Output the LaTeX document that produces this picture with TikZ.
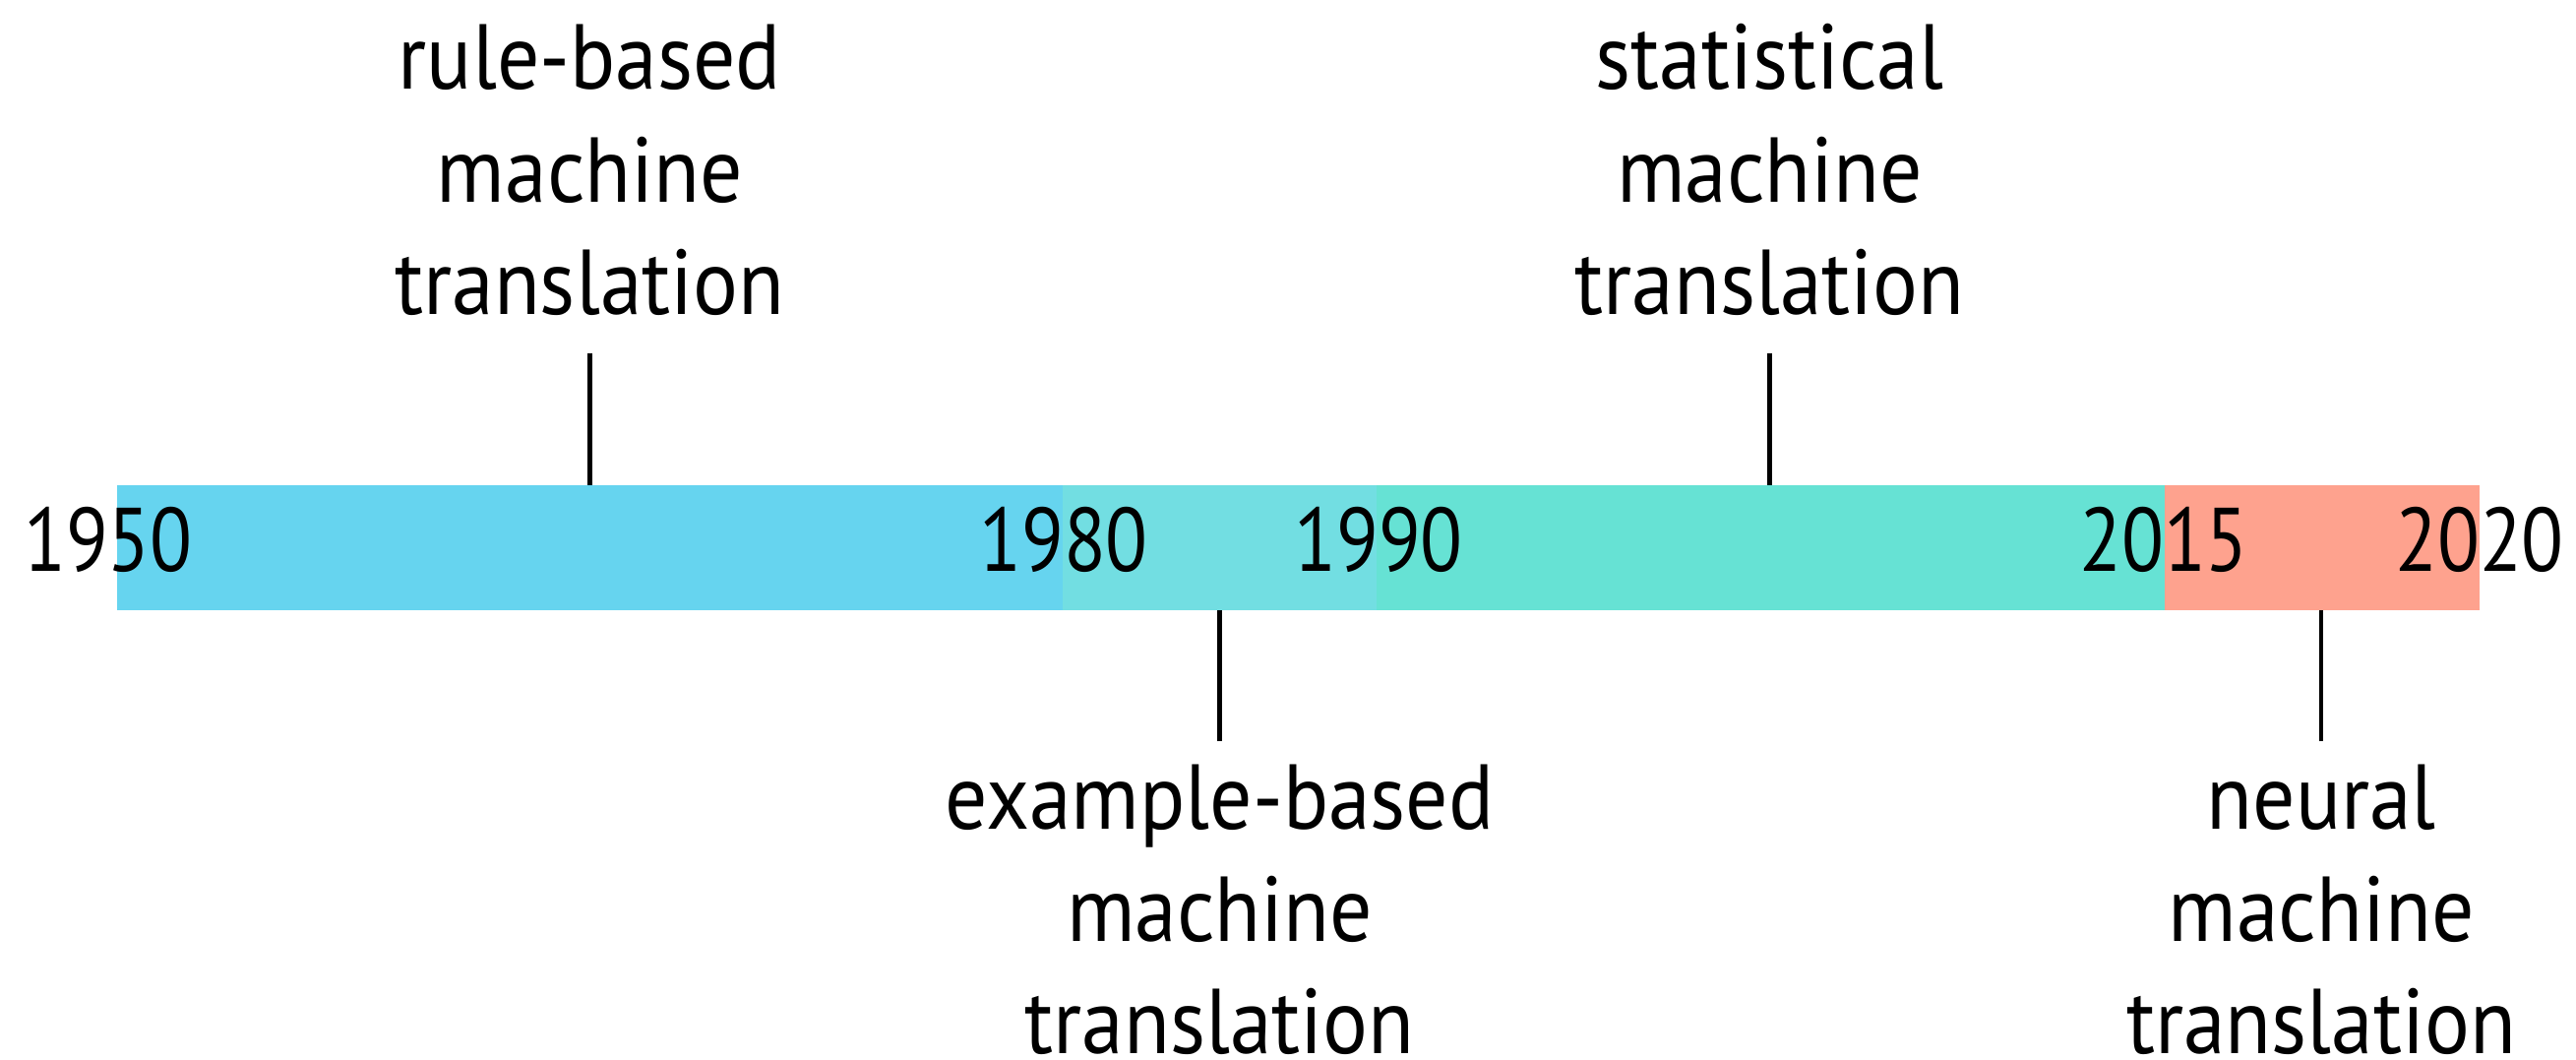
\documentclass[tikz,border=0pt]{standalone}
\usepackage{fontspec}
\setmainfont[FakeStretch=0.915]{PT Sans}
\newfontfamily\yearfont[FakeStretch=0.86]{PT Sans}
\definecolor{segA}{RGB}{102,212,239}
\definecolor{segB}{RGB}{114,222,226}
\definecolor{segC}{RGB}{102,226,212}
\definecolor{segD}{RGB}{254,162,142}
\begin{document}
\begin{tikzpicture}[x=1bp,y=-1bp,
  seg/.style={rectangle,draw=none,inner sep=0pt,outer sep=0pt,minimum height=127.5bp,anchor=north west},
  year/.style={inner sep=0pt,anchor=base,font=\yearfont\fontsize{92}{114.7}\selectfont},
  lbl/.style={inner sep=0pt,align=center,anchor=base,font=\fontsize{94}{114.7}\selectfont},
  tick/.style={line width=4.5bp}]
\useasboundingbox (0,0) rectangle (2618,1076);
% bar segments
\node[seg,fill=segA,minimum width=961.8bp] (sA) at (118.5,492.5) {};
\node[seg,fill=segB,minimum width=318.9bp] (sB) at (1080.3,492.5) {};
\node[seg,fill=segC,minimum width=801.1bp] (sC) at (1399.2,492.5) {};
\node[seg,fill=segD,minimum width=319.4bp] (sD) at (2200.3,492.5) {};
% years
\node[year] (y1950) at (110,580.7) {1950};
\node[year] (y1980) at (1081,580.7) {1980};
\node[year] (y1990) at (1401,580.7) {1990};
\node[year] (y2015) at (2199,580.7) {2015};
\node[year] (y2020) at (2520,580.7) {2020};
% labels (base = baseline of last line)
\node[lbl] (rule) at (599.4,319.3) {rule-based\\machine\\translation};
\node[lbl] (stat) at (1798.5,319.3) {statistical\\machine\\translation};
\node[lbl] (exam) at (1239.5,1070.7) {example-based\\machine\\translation};
\node[lbl] (neur) at (2359.2,1070.7) {neural\\machine\\translation};
% connector ends
\coordinate (rEnd) at (599.4,359.3);
\coordinate (sEnd) at (1798.5,359.3);
\coordinate (eEnd) at (1239.5,753);
\coordinate (nEnd) at (2359.2,753);
\draw[tick] (rEnd) -- (rEnd |- sA.north);
\draw[tick] (sEnd) -- (sEnd |- sC.north);
\draw[tick] (eEnd) -- (eEnd |- sB.south);
\draw[tick] (nEnd) -- (nEnd |- sD.south);
\end{tikzpicture}
\end{document}
